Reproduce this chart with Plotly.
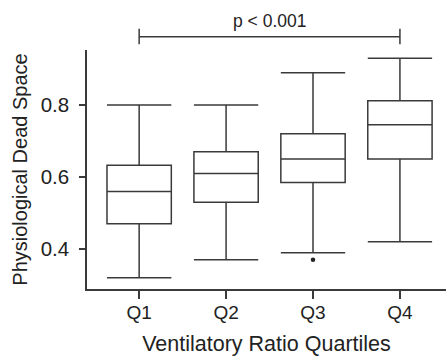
import plotly.graph_objects as go

categories = ["Q1", "Q2", "Q3", "Q4"]
lower_whisker = [0.32, 0.37, 0.39, 0.42]
q1_vals = [0.47, 0.53, 0.585, 0.65]
median_vals = [0.56, 0.61, 0.65, 0.745]
q3_vals = [0.633, 0.67, 0.72, 0.812]
upper_whisker = [0.80, 0.80, 0.89, 0.93]
outlier_cats = ["Q3"]
outlier_vals = [0.37]
y_ticks = [0.4, 0.6, 0.8]
p_text = "p < 0.001"

LINE = "#3a3a3a"
TEXT = "#222222"
FONT = "Liberation Sans, Arial, Helvetica, sans-serif"

fig = go.Figure()
fig.add_trace(go.Box(
    x=categories,
    q1=q1_vals, median=median_vals, q3=q3_vals,
    lowerfence=lower_whisker, upperfence=upper_whisker,
    fillcolor="white",
    line=dict(color=LINE, width=1.5),
    whiskerwidth=1,
    width=0.74,
    boxpoints=False,
    showlegend=False,
    hoverinfo="skip",
))
fig.add_trace(go.Scatter(
    x=outlier_cats, y=outlier_vals, mode="markers",
    marker=dict(color="#222222", size=4.5),
    showlegend=False, hoverinfo="skip",
))

# significance bracket
fig.add_shape(type="line", xref="x", yref="paper", x0=0, x1=3, y0=1.0556, y1=1.0556,
              line=dict(color=LINE, width=1.5))
fig.add_shape(type="line", xref="x", yref="paper", x0=0, x1=0, y0=1.024, y1=1.089,
              line=dict(color=LINE, width=1.5))
fig.add_shape(type="line", xref="x", yref="paper", x0=3, x1=3, y0=1.024, y1=1.089,
              line=dict(color=LINE, width=1.5))
fig.add_annotation(x=1.5, xref="x", y=1.1226, yref="paper", text=p_text,
                   showarrow=False, font=dict(size=17.5, color=TEXT, family=FONT),
                   yanchor="middle", xanchor="center")

fig.update_layout(
    width=446, height=356,
    margin=dict(l=87, r=0, t=50, b=67),
    paper_bgcolor="white", plot_bgcolor="white",
    font=dict(family=FONT, color=TEXT, size=19),
    xaxis=dict(
        type="category", categoryorder="array", categoryarray=categories,
        range=[-0.6, 3.53], automargin=False,
        showline=True, linecolor=LINE, linewidth=1.5,
        ticks="outside", ticklen=8, tickwidth=1.5, tickcolor=LINE,
        showgrid=False, zeroline=False,
        tickfont=dict(size=19, color=TEXT), ticklabelstandoff=-3,
        title=dict(text="Ventilatory Ratio Quartiles", font=dict(size=21.5, color=TEXT), standoff=14),
    ),
    yaxis=dict(
        range=[0.289, 0.953], automargin=False,
        tickvals=y_ticks, tickformat=".1f",
        showline=True, linecolor=LINE, linewidth=1.5,
        ticks="outside", ticklen=6, tickwidth=1.5, tickcolor=LINE,
        showgrid=False, zeroline=False,
        tickfont=dict(size=20.5, color=TEXT), ticklabelstandoff=6,
        title=dict(text="Physiological Dead Space", font=dict(size=20, color=TEXT), standoff=8),
    ),
)

fig.write_html("out.html", config={"displayModeBar": False},
               post_script="document.body.style.margin='0px';document.body.style.overflow='hidden';")
